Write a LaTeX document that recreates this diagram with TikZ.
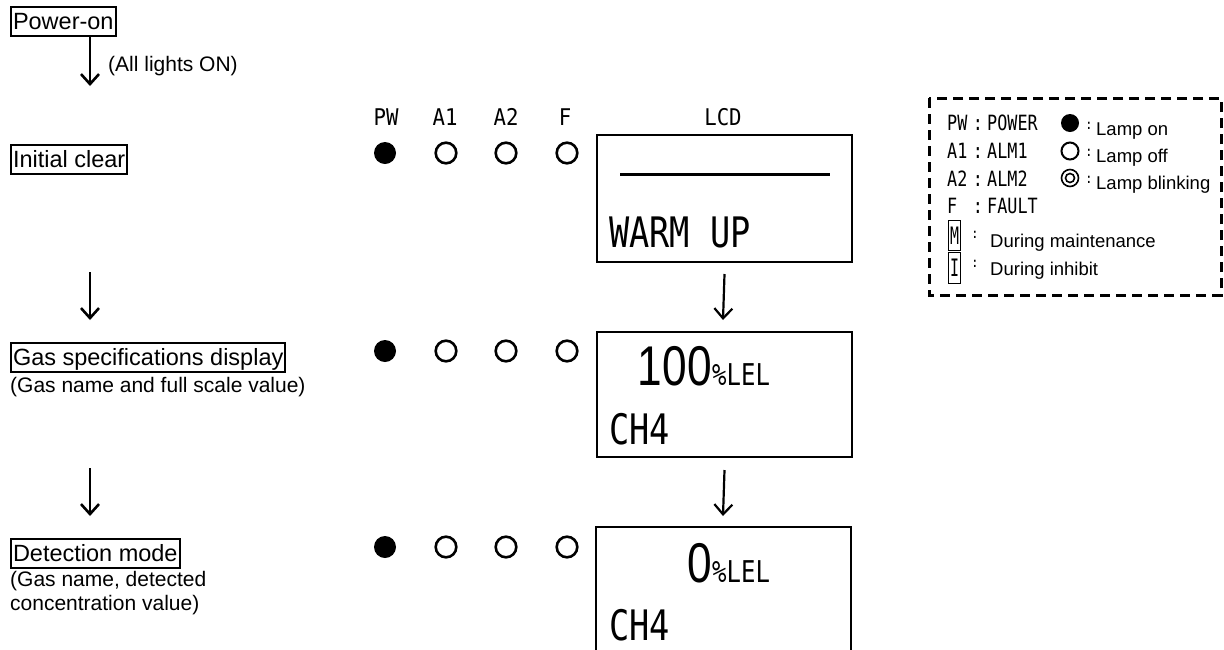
\documentclass[tikz,border=0pt]{standalone}
\usepackage{fontspec}
\setmainfont{Liberation Sans}
\newfontfamily\hdrf[FakeStretch=0.9]{DejaVu Sans Mono}
\newfontfamily\lcdf[FakeStretch=0.8]{DejaVu Sans Mono}
\newfontfamily\digf[FakeStretch=0.79]{Liberation Sans}
\newfontfamily\legf[FakeStretch=0.8]{DejaVu Sans Mono}
\newfontfamily\mif[FakeStretch=0.62]{DejaVu Sans Mono}
\usetikzlibrary{arrows.meta}
\begin{document}
\begin{tikzpicture}[x=1pt,y=-1pt,
  stepbox/.style={draw, line width=2pt, inner xsep=2pt, inner ysep=3.5pt,
    text height=18.5pt, text depth=3.5pt, anchor=base west,
    font=\fontsize{23.5}{27}\selectfont},
  note/.style={anchor=base west, inner sep=0pt,
    font=\fontsize{21}{25}\selectfont},
  flow/.style={line width=2.6pt, -{Straight Barb[length=10pt,width=18pt]}},
  lampon/.style={circle, fill=black, minimum size=22pt, inner sep=0pt},
  lampoff/.style={circle, draw=black, line width=2.6pt, minimum size=20.6pt, inner sep=0pt},
  hdr/.style={anchor=base, inner sep=0pt, font=\hdrf\fontsize{23}{27}\selectfont},
  lcdbox/.style={draw, line width=2pt, minimum width=255pt, minimum height=125pt,
    anchor=north west, inner sep=0pt},
  lcdtxt/.style={anchor=base west, inner sep=0pt, font=\lcdf\fontsize{42}{46}\selectfont},
  digtxt/.style={anchor=base east, inner sep=0pt, font=\digf\fontsize{56}{60}\selectfont},
  unit/.style={anchor=base west, inner sep=0pt, font=\lcdf\fontsize{30}{34}\selectfont},
  leg/.style={anchor=base west, inner sep=0pt, font=\legf\fontsize{21}{24}\selectfont},
  legcol/.style={anchor=base, inner sep=0pt, font=\legf\fontsize{21}{24}\selectfont},
  legtxt/.style={anchor=base west, inner sep=0pt, font=\fontsize{18.5}{22}\selectfont},
  smallcol/.style={anchor=center, inner sep=0pt, font=\hdrf\fontsize{14}{16}\selectfont}
]
\useasboundingbox (0,0) rectangle (1224,649);

% ---- left column: steps ----
\node[stepbox] (pwon) at (10,29) {Power-on};
\node[stepbox] (init) at (10,167) {Initial clear};
\node[stepbox] (gas) at (10,365) {Gas specifications display};
\node[note] (gasn) at (10,392) {(Gas name and full scale value)};
\node[stepbox] (det) at (10,561) {Detection mode};
\node[note] (detn1) at (10,586) {(Gas name, detected};
\node[note] (detn2) at (10,610) {concentration value)};
\node[note] (alln) at (108,71) {(All lights ON)};

\coordinate (a0s) at (90,37);  \coordinate (a0e) at (90,86);
\coordinate (a1s) at (90,272); \coordinate (a1e) at (90,320);
\coordinate (a2s) at (90,468); \coordinate (a2e) at (90,516);
\draw[flow] (a0s) -- (a0e);
\draw[flow] (a1s) -- (a1e);
\draw[flow] (a2s) -- (a2e);

% ---- header ----
\node[hdr] (hPW) at (386,125) {PW};
\node[hdr] (hA1) at (445,125) {A1};
\node[hdr] (hA2) at (506,125) {A2};
\node[hdr] (hF) at (565,125) {F};
\node[hdr] (hLCD) at (723,125) {LCD};

% ---- lamps ----
\foreach \r/\y in {1/153,2/351,3/547}{
  \node[lampon] (pw\r) at (385,\y) {};
  \node[lampoff] (al\r) at (446,\y) {};
  \node[lampoff] (ah\r) at (506,\y) {};
  \node[lampoff] (fl\r) at (567,\y) {};
}

% ---- LCD boxes ----
\node[lcdbox, minimum height=127pt] (lcd1) at (596,134) {};
\draw[line width=3pt] ([xshift=24pt,yshift=-40pt]lcd1.north west) -- ([xshift=-23pt,yshift=-40pt]lcd1.north east);
\node[lcdtxt] (warm) at (609,247) {WARM UP};

\node[lcdbox] (lcd2) at (596,331) {};
\node[digtxt] (v100) at (712,385) {100};
\node[unit] (u100) at (v100.base east) {\%LEL};
\node[lcdtxt] (gas2) at (609,444) {CH4};

\coordinate (b3l) at (596,660);
\coordinate (b3r) at (851,660);
\draw[line width=2pt] (b3l) |- (851,527) coordinate (b3t) -- (b3r);
\node[digtxt] (v0) at (712,582) {0};
\node[unit] (u0) at (v0.base east) {\%LEL};
\node[lcdtxt] (gas3) at (609,640) {CH4};

\draw[flow, line width=2.2pt] (lcd1.south) ++(0,11) coordinate (r1s) -- (723,320) coordinate (r1e);
\draw[flow, line width=2.2pt] (lcd2.south) ++(0,12) coordinate (r2s) -- (723,516) coordinate (r2e);

% ---- legend ----
\draw[line width=3pt, dash pattern=on 10pt off 6pt] (929,98) rectangle (1221,295);
\node[leg] (lpw) at (947,130) {PW};
\node[leg] (la1) at (947,158) {A1};
\node[leg] (la2) at (947,186) {A2};
\node[leg] (lf) at (947,213) {F};
\foreach \n/\y in {1/130,2/158,3/186,4/213}{
  \node[legcol] (lc\n) at (978,\y) {:};
}
\node[leg] (lpower) at (987,130) {POWER};
\node[leg] (lalm1) at (987,158) {ALM1};
\node[leg] (lalm2) at (987,186) {ALM2};
\node[leg] (lfault) at (987,213) {FAULT};

\node[circle, fill=black, minimum size=18pt, inner sep=0pt] (kon) at (1070,123) {};
\node[circle, draw=black, line width=2pt, minimum size=17pt, inner sep=0pt] (koff) at (1070,151) {};
\node[circle, draw=black, line width=1.6pt, minimum size=17pt, inner sep=0pt] (kbl) at (1070,178) {};
\node[circle, draw=black, line width=1.6pt, minimum size=9pt, inner sep=0pt] (kbli) at (kbl) {};
\node[smallcol] (kc1) at (1089,126) {:};
\node[smallcol] (kc2) at (1089,153) {:};
\node[smallcol] (kc3) at (1089,180) {:};
\node[legtxt] (ton) at (1096,135) {Lamp on};
\node[legtxt] (toff) at (1096,162) {Lamp off};
\node[legtxt] (tbl) at (1096,189) {Lamp blinking};

\node[draw, line width=1.2pt, minimum width=12pt, minimum height=30pt, inner sep=0pt, anchor=north west,
  font=\mif\fontsize{24}{26}\selectfont] (mbox) at (948,220) {M};
\node[draw, line width=1.2pt, minimum width=12pt, minimum height=31pt, inner sep=0pt, anchor=north west,
  font=\mif\fontsize{24}{26}\selectfont, yshift=-1.5pt] (ibox) at (948,250) {I};
\node[smallcol] (mc) at (975,235) {:};
\node[smallcol] (ic) at (975,264) {:};
\node[legtxt] (tmain) at (990,247) {During maintenance};
\node[legtxt] (tinh) at (990,275) {During inhibit};
\end{tikzpicture}
\end{document}
